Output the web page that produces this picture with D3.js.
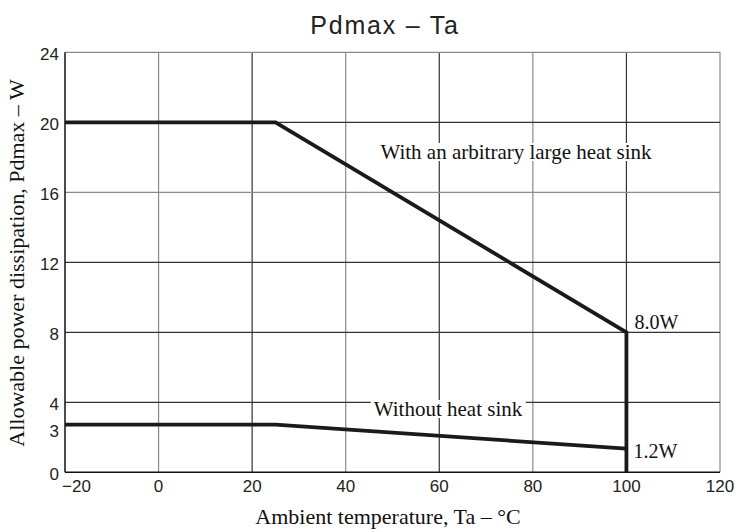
<!DOCTYPE html>
<html><head><meta charset="utf-8">
<script src="https://cdn.jsdelivr.net/npm/d3@7"></script>
<style>body{margin:0;background:#fff}</style>
</head><body>
<svg id="c" width="738" height="532"></svg>
<script>
const xTicks = [-20, 0, 20, 40, 60, 80, 100, 120];
const xTickLabels = ["\u221220", "0", "20", "40", "60", "80", "100", "120"];
const yGrid = [4, 8, 12, 16, 20, 24];
const yTickPos = [0, 2.45, 4, 8, 12, 16, 20, 24];
const yTickLabels = ["0", "3", "4", "8", "12", "16", "20", "24"];
const withSinkTa = [-20, 25, 100, 100];
const withSinkP = [20, 20, 8.0, 0];
const noSinkTa = [-20, 25, 100];
const noSinkP = [2.72, 2.72, 1.35];

const svg = d3.select("#c");
const x = d3.scaleLinear().domain([-20, 120]).range([65, 720]);
const y = d3.scaleLinear().domain([0, 24]).range([472.3, 52.3]);

const sans = "Liberation Sans, Arial, sans-serif";
const serif = "Liberation Serif, Times New Roman, serif";
const dark = "#333", gray = "#8a8a8a";
// vertical grid
xTicks.forEach(v => {
  if (v === -20) return;
  svg.append("line").attr("x1", x(v)).attr("x2", x(v)).attr("y1", y(0)).attr("y2", y(24))
    .attr("stroke", (v === 20 || v === 60 || v === 100) ? dark : gray).attr("stroke-width", 1.2);
});
yGrid.forEach(v => {
  svg.append("line").attr("x1", x(-20)).attr("x2", x(120)).attr("y1", y(v)).attr("y2", y(v))
    .attr("stroke", (v === 16 || v === 24) ? gray : dark).attr("stroke-width", 1.2);
});
// axes
svg.append("line").attr("x1", x(-20)).attr("x2", x(-20)).attr("y1", y(0)).attr("y2", y(24)).attr("stroke", "#111").attr("stroke-width", 1.5);
svg.append("line").attr("x1", x(-20)).attr("x2", x(120)).attr("y1", y(0)).attr("y2", y(0)).attr("stroke", "#111").attr("stroke-width", 1.5);

// tick labels
svg.append("g").selectAll("text").data(xTicks).join("text")
  .attr("x", (d,i) => i === 0 ? x(d) - 3 : x(d)).attr("y", y(0) + 20)
  .attr("text-anchor", (d,i) => i === 0 ? "start" : "middle")
  .attr("font-family", sans).attr("font-size", 17).attr("fill", "#222")
  .text((d,i) => xTickLabels[i]);
svg.append("g").selectAll("text").data(yTickPos).join("text")
  .attr("x", x(-20) - 6).attr("y", d => y(d) + 8).attr("text-anchor", "end")
  .attr("font-family", sans).attr("font-size", 17).attr("fill", "#222")
  .text((d,i) => yTickLabels[i]);

// labels with white background
function boxLabel(txt, cx, cy, size) {
  const t = svg.append("text").attr("x", cx).attr("y", cy).attr("text-anchor", "middle")
    .attr("dominant-baseline", "central")
    .attr("font-family", serif).attr("font-size", size).attr("fill", "#111").text(txt);
  const b = t.node().getBBox();
  svg.insert("rect", () => t.node()).attr("x", b.x - 3).attr("y", b.y + 3).attr("width", b.width + 6).attr("height", b.height - 6).attr("fill", "#fff");
}
boxLabel("With an arbitrary large heat sink", 516, 152, 21);
boxLabel("Without heat sink", 448, 409, 21);

// data lines
const line = d3.line().x(d => x(d[0])).y(d => y(d[1]));
svg.append("path").datum(withSinkTa.map((t,i) => [t, withSinkP[i]])).attr("d", line)
  .attr("fill", "none").attr("stroke", "#1a1a1a").attr("stroke-width", 3.8).attr("stroke-linejoin", "miter");
svg.append("path").datum(noSinkTa.map((t,i) => [t, noSinkP[i]])).attr("d", line)
  .attr("fill", "none").attr("stroke", "#1a1a1a").attr("stroke-width", 3.8);

svg.append("text").attr("x", x(100) + 8).attr("y", y(8) - 3).attr("font-family", serif)
  .attr("font-size", 20).attr("fill", "#111").text("8.0W");
svg.append("text").attr("x", x(100) + 7).attr("y", y(1.35) + 9).attr("font-family", serif)
  .attr("font-size", 20).attr("fill", "#111").text("1.2W");

// title
svg.append("text").attr("x", 385).attr("y", 34).attr("text-anchor", "middle")
  .attr("font-family", sans).attr("font-size", 25).attr("letter-spacing", 1.8).attr("fill", "#222")
  .text("Pdmax \u2013 Ta");
// axis titles
svg.append("text").attr("x", 388).attr("y", 524).attr("text-anchor", "middle")
  .attr("font-family", serif).attr("font-size", 22).attr("fill", "#111")
  .text("Ambient temperature, Ta \u2013 \u00B0C");
svg.append("text").attr("transform", "translate(24,263) rotate(-90)").attr("text-anchor", "middle")
  .attr("font-family", serif).attr("font-size", 22).attr("fill", "#111")
  .text("Allowable power dissipation, Pdmax \u2013 W");
</script>
</body></html>
